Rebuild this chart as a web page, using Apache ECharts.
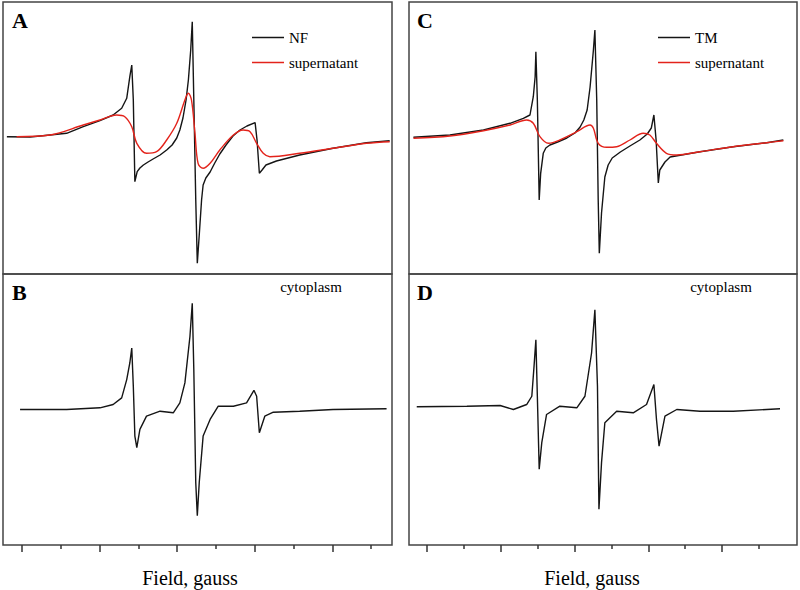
<!DOCTYPE html>
<html>
<head>
<meta charset="utf-8">
<script src="https://cdn.jsdelivr.net/npm/echarts@6/dist/echarts.min.js"></script>
<style>html,body{margin:0;padding:0;background:#fff;}#c{width:800px;height:590px;}</style>
</head>
<body>
<div id="c"></div>
<script>
// ---- Data (field in gauss, intensity in arbitrary units) ----
const fieldA_NF = [3296.1,3302.1,3307.2,3311.5,3315.8,3320.1,3323.5,3325.7,3327.0,3327.8,3328.3,3328.7,3329.1,3329.7,3330.4,3331.3,3332.5,3333.8,3335.6,3337.3,3338.7,3339.9,3340.7,3341.5,3342.3,3342.9,3343.5,3343.9,3344.3,3344.8,3345.2,3345.7,3346.3,3346.7,3347.4,3348.5,3349.7,3351.0,3352.6,3354.4,3356.2,3358.0,3360.1,3360.6,3361.2,3361.9,3362.9,3365.6,3371.6,3380.2,3388.8,3394.8];
const intA_NF = [1.3,1,3,4.7,11.3,17.3,23,29.7,39.7,61.3,73,38,-43.7,-33.7,-30,-27,-24,-21,-17,-12,-7,0,8,20,38,58,88,116.3,38,-62,-125.3,-97,-62,-47,-40,-34,-25,-16,-7,2,8,12,15.3,-2,-35.3,-32,-27,-23,-17,-10.3,-4.7,-2.7];

const fieldA_sup = [3298.6,3307.2,3315.8,3320.1,3324.4,3326.5,3328.3,3329.6,3332.1,3334.7,3337.3,3339.9,3342.0,3342.9,3343.7,3344.6,3345.4,3346.7,3348.5,3351.0,3354.5,3357.0,3358.8,3360.5,3362.2,3363.9,3371.6,3380.2,3388.8,3394.8];
const intA_sup = [1.3,3,13,18,23,21.3,11.3,-5.3,-15.3,-13.7,-2,14.7,38,44.7,38,4.7,-25.3,-30.3,-25.3,-12,3,8,6.3,-5.3,-15.3,-18.7,-15.3,-10.3,-5.3,-3.7];

const fieldB_cyto = [3299.5,3311.5,3320.1,3323.5,3325.7,3327.0,3327.8,3328.3,3328.7,3329.1,3329.6,3330.4,3332.1,3335.6,3339.0,3340.7,3342.0,3343.3,3343.9,3344.3,3344.8,3345.2,3345.7,3346.7,3348.5,3350.6,3354.5,3357.9,3359.8,3360.5,3361.2,3362.6,3364.8,3371.6,3380.2,3394.0];
const intB_cyto = [0,0,1.7,5,11.7,30,46.7,61.7,23.3,-26.7,-38.3,-20,-6.7,-1.7,-3.3,6.7,26.7,73.3,106.7,40,-73.3,-106.7,-73.3,-26.7,-10,3.3,3.3,6.7,19.3,13.3,-23.3,-6.7,-2.7,-1.7,0,0.7];

const fieldC_TM = [3296.3,3306.2,3315.3,3322.5,3326.1,3327.9,3328.8,3329.3,3329.5,3329.9,3330.4,3330.8,3331.5,3332.2,3333.3,3335.4,3337.9,3340.1,3341.5,3342.5,3343.4,3344.2,3345.1,3345.5,3346.0,3346.4,3346.7,3347.3,3348.2,3349.1,3350.2,3352.4,3355.0,3357.7,3359.7,3360.8,3361.5,3362.1,3362.7,3363.1,3364.5,3365.9,3374.0,3383.0,3392.1,3396.6];
const intC_TM = [0.7,3,8,14.7,19.7,23,41.3,61.3,86.3,38,-62,-35.3,-15.3,-10,-7,-4,0,5,11,18,28,51,88,108,38,-62,-115.3,-75,-39,-27,-20,-14,-8,-2,4,10,23,-2,-45,-32,-24,-19,-13.7,-8.7,-4.7,-2];

const fieldC_sup = [3296.3,3306.2,3315.3,3322.5,3327.0,3328.8,3330.6,3332.9,3336.0,3340.6,3344.2,3345.1,3346.4,3348.7,3351.4,3355.0,3358.6,3360.4,3362.2,3364.9,3367.7,3374.0,3383.0,3392.1,3396.6];
const intC_sup = [-0.3,2,7.3,13,18,14.7,1.3,-5.3,-2,6.3,13,9.7,-5.3,-9.3,-8.7,-2,4.7,3,-5.3,-15.3,-17,-13.7,-8.7,-4.7,-2.7];

const fieldD_cyto = [3297.2,3310.8,3319.8,3323.4,3327.0,3328.4,3329.0,3329.5,3329.9,3330.4,3331.1,3332.4,3336.0,3340.6,3342.8,3344.6,3345.5,3346.2,3346.6,3347.3,3348.2,3351.4,3355.9,3359.5,3361.5,3362.2,3362.9,3364.5,3367.7,3374.0,3383.0,3395.7];
const intD_cyto = [2.7,3.3,4,0,5,13.3,43.3,70,13.3,-60,-33.3,-5,3.3,1.7,13.3,56.7,100,23.3,-100,-53.3,-13.3,-1.7,-3.3,5,25,-10,-36.7,-6.7,0,-1.7,-1.7,0.7];

const majorTicks = [3300,3320,3340,3360,3380];
const minorTicks = [3310,3330,3350,3370,3390];

const panelLetters = ['A','B','C','D'];
const legendLeft = ['NF','supernatant'];
const legendRight = ['TM','supernatant'];
const cytoLabel = 'cytoplasm';
const xTitle = 'Field, gauss';

// ---- Chart ----
const zip = (xs, ys) => xs.map((x, i) => [x, ys[i]]);
const SERIF = 'Liberation Serif';
const BLACK = '#151515', RED = '#e3231b', FRAME = '#444444';
const leftRange = [3295.1, 3395.4], rightRange = [3295.1, 3400.3];

const grids = [
  {left: 3, top: 2, width: 389, height: 272},
  {left: 3, top: 274, width: 389, height: 271},
  {left: 409, top: 2, width: 388, height: 272},
  {left: 409, top: 274, width: 388, height: 271}
].map(g => Object.assign({show: true, borderColor: FRAME, borderWidth: 1.5, backgroundColor: 'transparent', containLabel: false}, g));

const xAxes = [];
const yAxes = [];
function hiddenX(grid, range) {
  return {type: 'value', gridIndex: grid, min: range[0], max: range[1], show: false};
}
function tickX(grid, range, vals, len) {
  return {type: 'value', gridIndex: grid, min: range[0], max: range[1], position: 'bottom',
    axisLine: {show: false}, splitLine: {show: false}, axisLabel: {show: false},
    axisTick: {show: true, inside: false, length: len, lineStyle: {color: '#333', width: 1.5}, customValues: vals}};
}
xAxes.push(hiddenX(0, leftRange));
xAxes.push(hiddenX(1, leftRange));
xAxes.push(tickX(1, leftRange, majorTicks, 7));
xAxes.push(tickX(1, leftRange, minorTicks, 4));
xAxes.push(hiddenX(2, rightRange));
xAxes.push(hiddenX(3, rightRange));
xAxes.push(tickX(3, rightRange, majorTicks, 7));
xAxes.push(tickX(3, rightRange, minorTicks, 4));
for (let i = 0; i < 4; i++) yAxes.push({type: 'value', gridIndex: i, min: -136, max: 136, show: false});

function line(name, xi, yi, data, color, smooth) {
  return {name, type: 'line', xAxisIndex: xi, yAxisIndex: yi, data, showSymbol: false, symbol: 'none',
    smooth: smooth, silent: true, animation: false,
    lineStyle: {color, width: 1.4}, itemStyle: {color}, z: color === RED ? 3 : 2};
}

const series = [
  line('NF', 0, 0, zip(fieldA_NF, intA_NF), BLACK, false),
  line('supernatant', 0, 0, zip(fieldA_sup, intA_sup), RED, 0.35),
  line('cytoplasm B', 1, 1, zip(fieldB_cyto, intB_cyto), BLACK, false),
  line('TM', 4, 2, zip(fieldC_TM, intC_TM), BLACK, false),
  line('supernatant', 4, 2, zip(fieldC_sup, intC_sup), RED, 0.35),
  line('cytoplasm D', 5, 3, zip(fieldD_cyto, intD_cyto), BLACK, false)
];

function legend(left, names) {
  return {left, top: 25, orient: 'vertical', itemGap: 10, itemWidth: 32, itemHeight: 1.5, icon: 'rect',
    selectedMode: false, data: names, textStyle: {fontFamily: SERIF, fontSize: 15, color: '#000'}};
}

function txt(x, y, text, size, weight, align) {
  return {type: 'text', x, y, silent: true, style: {text, fontFamily: SERIF, fontSize: size, fontWeight: weight || 'normal',
    fill: '#000', align: align || 'left', verticalAlign: 'middle'}};
}

const option = {
  backgroundColor: '#fff',
  animation: false,
  grid: grids,
  xAxis: xAxes,
  yAxis: yAxes,
  legend: [legend(247, legendLeft), legend(653, legendRight)],
  series,
  graphic: [
    txt(12, 20, panelLetters[0], 22, 'bold'),
    txt(12, 292, panelLetters[1], 22, 'bold'),
    txt(417, 20, panelLetters[2], 22, 'bold'),
    txt(417, 292, panelLetters[3], 22, 'bold'),
    txt(311, 287, cytoLabel, 15, 'normal', 'center'),
    txt(721, 287, cytoLabel, 15, 'normal', 'center'),
    txt(190, 578, xTitle, 20, 'normal', 'center'),
    txt(592, 578, xTitle, 20, 'normal', 'center')
  ]
};

const chart = echarts.init(document.getElementById('c'), null, {renderer: 'svg'});
chart.setOption(option);
</script>
</body>
</html>
